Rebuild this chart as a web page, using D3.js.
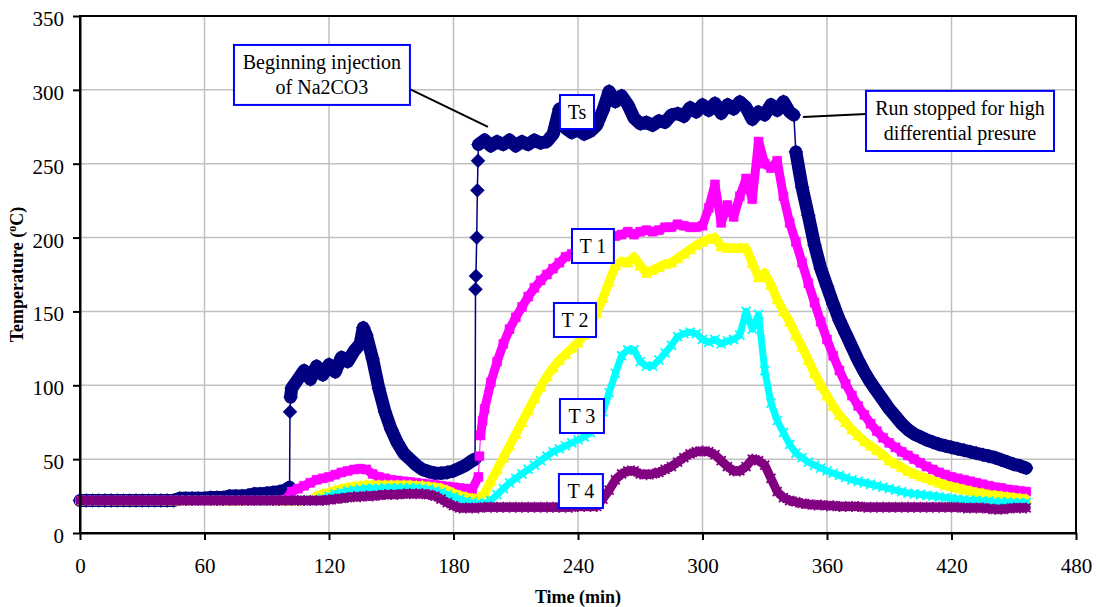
<!DOCTYPE html>
<html>
<head>
<meta charset="UTF-8">
<title>Temperature vs Time</title>
<script src="https://d3js.org/d3.v7.min.js"></script>
<style>
  body { margin: 0; background: #fff; }
  svg { font-family: "Liberation Serif", "Times New Roman", serif; }
  .grid line { stroke: #c0c0c0; stroke-width: 1.5; }
  .axis-title { font-size: 18px; font-weight: bold; fill: #000; }
  .note-box { fill: #fff; stroke: #0000ff; stroke-width: 2; }
  .note-text { font-size: 20px; fill: #000; }
  .leader { stroke: #000; stroke-width: 2; }
</style>
</head>
<body>
<svg id="chart" width="1097" height="607"></svg>
<script>
// sample times (min)
const time = [
  0, 3, 6, 9, 12, 15, 18, 21, 24, 27,
  30, 33, 36, 39, 42, 45, 48, 51, 54, 57,
  60, 63, 66, 69, 72, 75, 78, 81, 84, 87,
  90, 93, 96, 99, 102, 105, 108, 111, 114, 117,
  120, 123, 126, 129, 132, 135, 138, 141, 144, 147,
  150, 153, 156, 159, 162, 165, 168, 171, 174, 177,
  180, 183, 186, 189, 192, 195, 198, 201, 204, 207,
  210, 213, 216, 219, 222, 225, 228, 231, 234, 237,
  240, 243, 246, 249, 252, 255, 258, 261, 264, 267,
  270, 273, 276, 279, 282, 285, 288, 291, 294, 297,
  300, 303, 306, 309, 312, 315, 318, 321, 324, 327,
  330, 333, 336, 339, 342, 345, 348, 351, 354, 357,
  360, 363, 366, 369, 372, 375, 378, 381, 384, 387,
  390, 393, 396, 399, 402, 405, 408, 411, 414, 417,
  420, 423, 426, 429, 432, 435, 438, 441, 444, 447,
  450, 453, 456
];

const tsValues = [
  22, 22, 22, 22, 22, 22, 22, 22, 22, 22,
  22, 22, 22, 22, 22, 22, 23.5, 23.5, 23.5, 23.5,
  23.5, 24, 24, 24, 25, 25, 25, 25.5, 26.5, 26.5,
  27, 27.5, 28, 29, 98, 104, 110, 104, 113, 107,
  114, 109, 119, 116, 123, 128, 134, 118, 98, 82,
  70, 61, 54, 50, 46, 43, 41.5, 40.5, 40.5, 41,
  42, 44, 46, 49, 263, 266, 262, 265, 263, 266,
  262, 265, 263, 266, 264, 265, 270, 287, 274, 271,
  273, 270, 272, 276, 286, 299, 292, 296, 290, 281,
  277, 278, 276, 279, 278, 283, 284, 282, 288, 285,
  290, 286, 291, 284, 290, 287, 292, 288, 280, 285,
  283, 290, 286, 292, 285, 258, 234, 215, 195, 179,
  167, 155, 144, 135, 126, 117, 109, 102, 96, 90,
  84, 79, 74, 70, 67, 65, 63, 61.5, 60, 59,
  58, 57, 56, 55, 54, 53, 52, 51, 49.5, 48,
  46.5, 45.5, 44
];
// extra Ts readings at the sudden jumps
const tsExtra = [
  [101, 31], [101.2, 82], [101.5, 92], [136.5, 139],
  [190.4, 50], [190.6, 165], [190.8, 174], [191.2, 200], [191.5, 232], [191.8, 252],
  [344, 283]
];

const t1Values = [
  22, 22, 22, 22, 22, 22, 22, 22, 22, 22,
  22, 22, 22, 22, 22, 22, 22, 22, 22, 22,
  22, 22, 22, 22, 22, 22, 22, 22, 22, 22,
  22, 22, 22, 22.5, 28, 30, 32, 34, 36, 37,
  38, 39.5, 41, 42, 43, 43.5, 43, 40, 38, 37,
  36, 35.5, 35, 34.5, 34, 33.5, 33, 32.5, 32, 31.5,
  31, 30.5, 30, 29.5, 38, 84, 102, 116, 128, 138,
  146, 153, 160, 166, 171, 175, 179, 183, 187, 189,
  191, 193, 196, 199, 201, 202, 201, 202, 204, 202,
  204, 205, 204, 205, 207, 207, 209, 208, 207, 207,
  208, 220, 236, 210, 222, 214, 228, 240, 226, 265,
  250, 247, 252, 228, 210, 197, 183, 169, 156, 143,
  131, 120, 110, 101, 93, 86, 80, 74, 69, 64.5,
  61, 58, 55, 52.5, 50, 47.5, 45, 43, 41, 39.5,
  38, 37, 36, 35, 34, 33, 32, 31, 30.5, 29.5,
  29, 28.5, 28
];
const t1Extra = [[192.5, 52], [193, 66], [194, 76]];

const t2Values = [
  22, 22, 22, 22, 22, 22, 22, 22, 22, 22,
  22, 22, 22, 22, 22, 22, 22, 22, 22, 22,
  22, 22, 22, 22, 22, 22, 22, 22, 22, 22,
  22, 22, 22, 22, 22, 22, 22, 22, 25, 26.5,
  27.5, 29, 30, 31, 31.5, 32, 32.5, 32.5, 32.5, 32.5,
  32.5, 32.5, 32.5, 32.5, 32, 32, 31.5, 31, 30.5, 29,
  27, 25.5, 24.5, 23.5, 23.5, 27, 35, 43, 51, 59,
  67, 75, 83, 91, 99, 106, 112, 117, 121, 125,
  129, 134, 141, 149, 159, 170, 181, 184, 183, 187,
  181, 176, 178, 180, 182, 183, 186, 189, 192, 195,
  197, 199, 200, 194, 193, 193, 193, 193, 183, 173,
  176, 168, 158, 150, 143, 134, 126, 117, 108, 100,
  93, 86, 80, 75, 70, 66, 62, 59, 56, 53,
  49, 47, 44.5, 42, 40, 38.5, 37, 35.5, 34, 32.5,
  31.5, 30.5, 29.5, 28.5, 27.5, 27, 26, 25.5, 25, 24.5,
  24, 23.5, 23
];

const t3Values = [
  22, 22, 22, 22, 22, 22, 22, 22, 22, 22,
  22, 22, 22, 22, 22, 22, 22, 22, 22, 22,
  22, 22, 22, 22, 22, 22, 22, 22, 22, 22,
  22, 22, 22, 22, 22, 22, 22, 22, 22, 23.5,
  25, 26.5, 27.5, 28.5, 29, 29.5, 30, 30, 30, 30.5,
  30.5, 30.5, 30.5, 30.5, 30.5, 30, 29.5, 28.5, 27.5, 26,
  24.5, 23, 21.5, 20.5, 20, 20, 22, 26, 30, 34,
  37, 40, 43, 46, 49, 52, 55, 57, 59, 61,
  63, 65, 68, 74, 82, 95, 108, 120, 124, 124,
  116, 113, 113, 117, 122, 127, 133, 135, 136, 135,
  131, 129, 131, 128, 130, 131, 134, 150, 138, 148,
  110, 88, 76, 68, 60, 54, 51, 48, 46, 44,
  42, 40.5, 39, 37.5, 36, 35, 34, 33, 32, 31,
  30, 29, 28, 27, 26.5, 26, 25.5, 25, 24.5, 24,
  23.5, 23, 22.5, 22, 22, 21.5, 21.5, 21, 21, 21,
  20.5, 20.5, 20.5
];

const t4Values = [
  22, 22, 22, 22, 22, 22, 22, 22, 22, 22,
  22, 22, 22, 22, 22, 22, 22, 22, 22, 22,
  22, 22, 22, 22, 22, 22, 22, 22, 22, 22,
  22, 22, 22, 22, 22, 22, 22, 22, 22, 22,
  22.5, 23, 23.5, 24, 24.5, 24.5, 25, 25, 25.5, 26,
  26, 26, 26.5, 26.5, 26.5, 26.5, 26, 25, 23, 20.5,
  18.5, 17, 17, 17, 17, 17.5, 17.5, 17.5, 17.5, 17.5,
  17.5, 17.5, 17.5, 17.5, 17.5, 17.5, 17.5, 17.5, 17.5, 17.5,
  18, 18, 18, 18, 23, 29, 36, 40, 42, 42,
  40, 39.5, 40, 41, 43, 45, 48, 51, 53.5, 55,
  55.5, 55, 53, 49, 45, 42, 42, 45, 50, 49,
  46, 37, 28, 24, 22, 21, 20, 19.5, 19, 19,
  18.5, 18.5, 18, 18, 18, 18, 17.5, 17.5, 17.5, 17.5,
  17.5, 17.5, 17.5, 17.5, 17.5, 17.5, 17.5, 17.5, 17.5, 17.5,
  17.5, 17.5, 17, 17, 17, 17, 16.5, 16, 16, 16.5,
  17, 17, 17
];

const xTicks = [0, 60, 120, 180, 240, 300, 360, 420, 480];
const yTicks = [0, 50, 100, 150, 200, 250, 300, 350];

// callout boxes, in data units: [t0, v0, t1, v1]
const notes = [
  { lines: ["Beginning injection", "of Na2CO3"], box: [74.2, 330.4, 159.0, 289.8] },
  { lines: ["Ts"], box: [231.3, 296.5, 247.7, 273.5] },
  { lines: ["Run stopped for high", "differential presure"], box: [378.8, 299.3, 469.4, 258.6] },
  { lines: ["T 1"], box: [237.1, 205.8, 257.3, 182.8] },
  { lines: ["T 2"], box: [228.4, 155.7, 248.7, 132.7] },
  { lines: ["T 3"], box: [231.3, 90.7, 252.5, 67.7] },
  { lines: ["T 4"], box: [230.8, 39.9, 252.0, 16.9] }
];
const leaders = [
  [[148, 308], [196.6, 274.9]],
  [[348.4, 281.6], [378.8, 283.7]]
];

const x = d3.scaleLinear().domain([0, 480]).range([80, 1076]);
const y = d3.scaleLinear().domain([0, 350]).range([533, 16]);

const svg = d3.select("#chart");
svg.append("rect").attr("width", 1097).attr("height", 607).attr("fill", "#fff");

// grid
const grid = svg.append("g").attr("class", "grid");
grid.selectAll("line.v").data(xTicks.filter(d => d > 0 && d < 480)).join("line")
  .attr("class", "v")
  .attr("x1", d => x(d)).attr("x2", d => x(d))
  .attr("y1", y(0)).attr("y2", y(350));
grid.selectAll("line.h").data(yTicks.filter(d => d > 0 && d < 350)).join("line")
  .attr("class", "h")
  .attr("x1", x(0)).attr("x2", x(480))
  .attr("y1", d => y(d)).attr("y2", d => y(d));

const shapes = {
  diamond: "M0,-7L7,0L0,7L-7,0Z",
  square: "M-4.5,-4.5h9v9h-9Z",
  triangle: "M0,-5.5L5.5,4.5L-5.5,4.5Z",
  cross: "M-4.5,-4.5L4.5,4.5M-4.5,4.5L4.5,-4.5",
  star: "M-4.5,-4.5L4.5,4.5M-4.5,4.5L4.5,-4.5M0,-5.5L0,5.5"
};

// band = width of the dense marker trail between neighbouring readings
const series = [
  { values: tsValues, extra: tsExtra, color: "#000080", shape: "diamond", filled: true, lw: 1.5, band: 13 },
  { values: t1Values, extra: t1Extra, color: "#ff00ff", shape: "square", filled: true, lw: 1, band: 9 },
  { values: t2Values, extra: [], color: "#ffff00", shape: "triangle", filled: true, lw: 1, band: 9 },
  { values: t3Values, extra: [], color: "#00ffff", shape: "cross", filled: false, lw: 1, band: 7 },
  { values: t4Values, extra: [], color: "#800080", shape: "star", filled: false, lw: 1, band: 9 }
];

const line = d3.line().x(d => x(d.t)).y(d => y(d.v));

series.forEach(s => {
  const pts = time.map((t, i) => ({ t: t, v: s.values[i] }))
    .concat(s.extra.map(p => ({ t: p[0], v: p[1] })))
    .sort((a, b) => a.t - b.t);

  // split into runs; a run breaks where the reading jumps abruptly
  const runs = [];
  let cur = [pts[0]];
  for (let i = 1; i < pts.length; i++) {
    const slope = Math.abs(pts[i].v - pts[i - 1].v) / (pts[i].t - pts[i - 1].t);
    if (slope > 20) {
      runs.push(cur);
      cur = [];
    }
    cur.push(pts[i]);
  }
  runs.push(cur);

  const g = svg.append("g");
  g.selectAll("path.band").data(runs.filter(r => r.length > 1)).join("path")
    .attr("class", "band")
    .attr("d", line)
    .attr("fill", "none")
    .attr("stroke", s.color)
    .attr("stroke-width", s.band)
    .attr("stroke-linejoin", "round")
    .attr("stroke-linecap", "round");
  g.append("path").datum(pts)
    .attr("d", line)
    .attr("fill", "none")
    .attr("stroke", s.color)
    .attr("stroke-width", s.lw);
  g.selectAll("path.mk").data(pts).join("path")
    .attr("class", "mk")
    .attr("transform", d => `translate(${x(d.t)},${y(d.v)})`)
    .attr("d", shapes[s.shape])
    .attr("fill", s.filled ? s.color : "none")
    .attr("stroke", s.color)
    .attr("stroke-width", s.filled ? 0.5 : 1.8);
});

// frame
svg.append("rect")
  .attr("x", x(0)).attr("y", y(350))
  .attr("width", x(480) - x(0)).attr("height", y(0) - y(350))
  .attr("fill", "none").attr("stroke", "#000").attr("stroke-width", 2);

const fontFam = "Liberation Serif, Times New Roman, serif";
svg.append("g")
  .attr("transform", `translate(0,${y(0)})`)
  .call(d3.axisBottom(x).tickValues(xTicks).tickSize(7).tickSizeOuter(0).tickPadding(18))
  .attr("font-family", fontFam).attr("font-size", 21)
  .call(g => g.select(".domain").attr("stroke-width", 2))
  .call(g => g.selectAll(".tick line").attr("stroke-width", 2))
  .call(g => g.selectAll(".tick text").attr("fill", "#000"));

svg.append("g")
  .attr("transform", `translate(${x(0)},0)`)
  .call(d3.axisLeft(y).tickValues(yTicks).tickSize(7).tickSizeOuter(0).tickPadding(9))
  .attr("font-family", fontFam).attr("font-size", 21)
  .call(g => g.select(".domain").attr("stroke-width", 2))
  .call(g => g.selectAll(".tick line").attr("stroke-width", 2))
  .call(g => g.selectAll(".tick text").attr("fill", "#000").attr("dy", "0.45em"));

// axis titles
svg.append("text").attr("class", "axis-title")
  .attr("x", (x(0) + x(480)) / 2).attr("y", 603)
  .attr("text-anchor", "middle")
  .text("Time (min)");

const yt = svg.append("text").attr("class", "axis-title")
  .attr("transform", `translate(23,${(y(0) + y(350)) / 2}) rotate(-90)`)
  .attr("text-anchor", "middle");
yt.append("tspan").text("Temperature (");
yt.append("tspan").attr("font-size", 12).attr("dy", -7).text("o");
yt.append("tspan").attr("dy", 7).text("C)");

// leader lines
svg.selectAll("line.leader").data(leaders).join("line")
  .attr("class", "leader")
  .attr("x1", d => x(d[0][0])).attr("y1", d => y(d[0][1]))
  .attr("x2", d => x(d[1][0])).attr("y2", d => y(d[1][1]));

// callouts
notes.forEach(n => {
  const x0 = x(n.box[0]), y0 = y(n.box[1]), x1 = x(n.box[2]), y1 = y(n.box[3]);
  svg.append("rect").attr("class", "note-box")
    .attr("x", x0).attr("y", y0).attr("width", x1 - x0).attr("height", y1 - y0);
  const cx = (x0 + x1) / 2, cy = (y0 + y1) / 2;
  const lh = 25;
  n.lines.forEach((ln, i) => {
    svg.append("text").attr("class", "note-text")
      .attr("x", cx)
      .attr("y", cy + 7 + (i - (n.lines.length - 1) / 2) * lh)
      .attr("text-anchor", "middle")
      .text(ln);
  });
});
</script>
</body>
</html>
